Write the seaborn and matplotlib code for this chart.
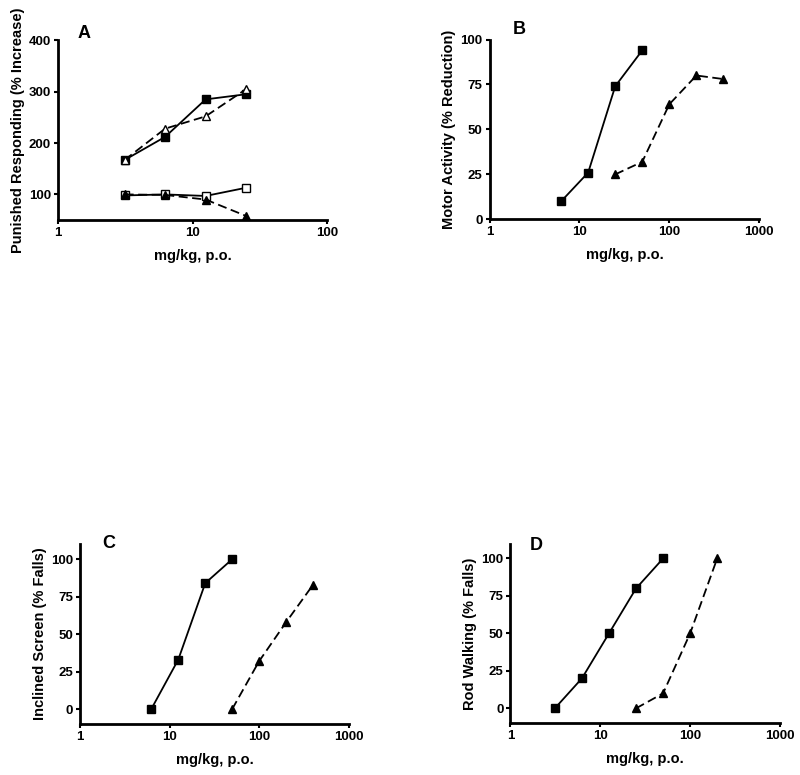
import matplotlib
matplotlib.use("Agg")
import matplotlib.pyplot as plt
import seaborn as sns
import pandas as pd
from matplotlib.ticker import FixedLocator, FixedFormatter, NullLocator

sns.set_theme(style="ticks")
plt.rcParams['font.family'] = ['Liberation Sans', 'DejaVu Sans']
plt.rcParams['text.color'] = 'black'
plt.rcParams['axes.labelcolor'] = 'black'
plt.rcParams['xtick.color'] = 'black'
plt.rcParams['ytick.color'] = 'black'

# Panel A
a_dose = [3.125, 6.25, 12.5, 25]
a_fsq = [167, 212, 285, 295]
a_otri = [167, 228, 252, 305]
a_osq = [98, 100, 97, 113]
a_ftri = [100, 99, 90, 58]

# Panel B
b_sq_dose = [6.25, 12.5, 25, 50]
b_sq = [10, 26, 74, 94]
b_tri_dose = [25, 50, 100, 200, 400]
b_tri = [25, 32, 64, 80, 78]

# Panel C
c_sq_dose = [6.25, 12.5, 25, 50]
c_sq = [0, 33, 84, 100]
c_tri_dose = [50, 100, 200, 400]
c_tri = [0, 32, 58, 83]

# Panel D
d_sq_dose = [3.125, 6.25, 12.5, 25, 50]
d_sq = [0, 20, 50, 80, 100]
d_tri_dose = [25, 50, 100, 200]
d_tri = [0, 10, 50, 100]

fig = plt.figure(figsize=(8, 7.75), dpi=100)

def series(ax, x, y, marker, filled, dashed, ms=5.5):
    df = pd.DataFrame({"x": x, "y": y})
    sns.lineplot(data=df, x="x", y="y", ax=ax, color="black", lw=1.3,
                 marker=marker, markersize=ms,
                 markerfacecolor="black" if filled else "white",
                 markeredgecolor="black", markeredgewidth=1.0,
                 linestyle=(0, (5, 2.5)) if dashed else "-")

def style(ax, ylabel, yticks, ylim, xmax, letter, lx, ly):
    ax.set_xscale("log")
    ax.set_xlim(1, xmax)
    ax.set_ylim(*ylim)
    xt = [1, 10, 100] if xmax == 100 else [1, 10, 100, 1000]
    ax.xaxis.set_major_locator(FixedLocator(xt))
    ax.xaxis.set_major_formatter(FixedFormatter([str(v) for v in xt]))
    ax.xaxis.set_minor_locator(NullLocator())
    ax.set_yticks(yticks)
    ax.set_yticklabels([str(v) for v in yticks])
    for s in ["top", "right"]:
        ax.spines[s].set_visible(False)
    for s in ["left", "bottom"]:
        ax.spines[s].set_linewidth(2)
        ax.spines[s].set_color("black")
    ax.tick_params(axis="both", direction="out", length=3, width=1.5,
                   labelsize=9.5, colors="black", pad=2)
    for t in ax.get_xticklabels() + ax.get_yticklabels():
        t.set_fontweight("bold")
    ax.set_xlabel("mg/kg, p.o.", fontsize=10.5, fontweight="bold", labelpad=7,
                  color="black")
    ax.set_ylabel(ylabel, fontsize=10.5, fontweight="bold", labelpad=3,
                  color="black")
    ax.set_facecolor("white")
    fig.text(lx, ly, letter, fontsize=13, fontweight="bold", ha="left",
             va="center", color="black")

axA = fig.add_axes([0.0725, 0.716, 0.3365, 0.232])
series(axA, a_dose, a_fsq, "s", True, False)
series(axA, a_dose, a_otri, "^", False, True)
series(axA, a_dose, a_osq, "s", False, False)
series(axA, a_dose, a_ftri, "^", True, True)
style(axA, "Punished Responding (% Increase)", [100, 200, 300, 400], (50, 400), 100,
      "A", 78 / 800, 1 - 34 / 775)

axB = fig.add_axes([0.612, 0.717, 0.337, 0.232])
series(axB, b_sq_dose, b_sq, "s", True, False)
series(axB, b_tri_dose, b_tri, "^", True, True)
style(axB, "Motor Activity (% Reduction)", [0, 25, 50, 75, 100], (0, 100), 1000,
      "B", 513 / 800, 1 - 29 / 775)

axC = fig.add_axes([0.1, 0.0658, 0.336, 0.232])
series(axC, c_sq_dose, c_sq, "s", True, False)
series(axC, c_tri_dose, c_tri, "^", True, True)
style(axC, "Inclined Screen (% Falls)", [0, 25, 50, 75, 100], (-10, 110), 1000,
      "C", 102 / 800, 1 - 543 / 775)

axD = fig.add_axes([0.638, 0.0667, 0.337, 0.232])
series(axD, d_sq_dose, d_sq, "s", True, False)
series(axD, d_tri_dose, d_tri, "^", True, True)
style(axD, "Rod Walking (% Falls)", [0, 25, 50, 75, 100], (-10, 110), 1000,
      "D", 530 / 800, 1 - 545 / 775)

fig.savefig("out.png", dpi=100, facecolor="white")
